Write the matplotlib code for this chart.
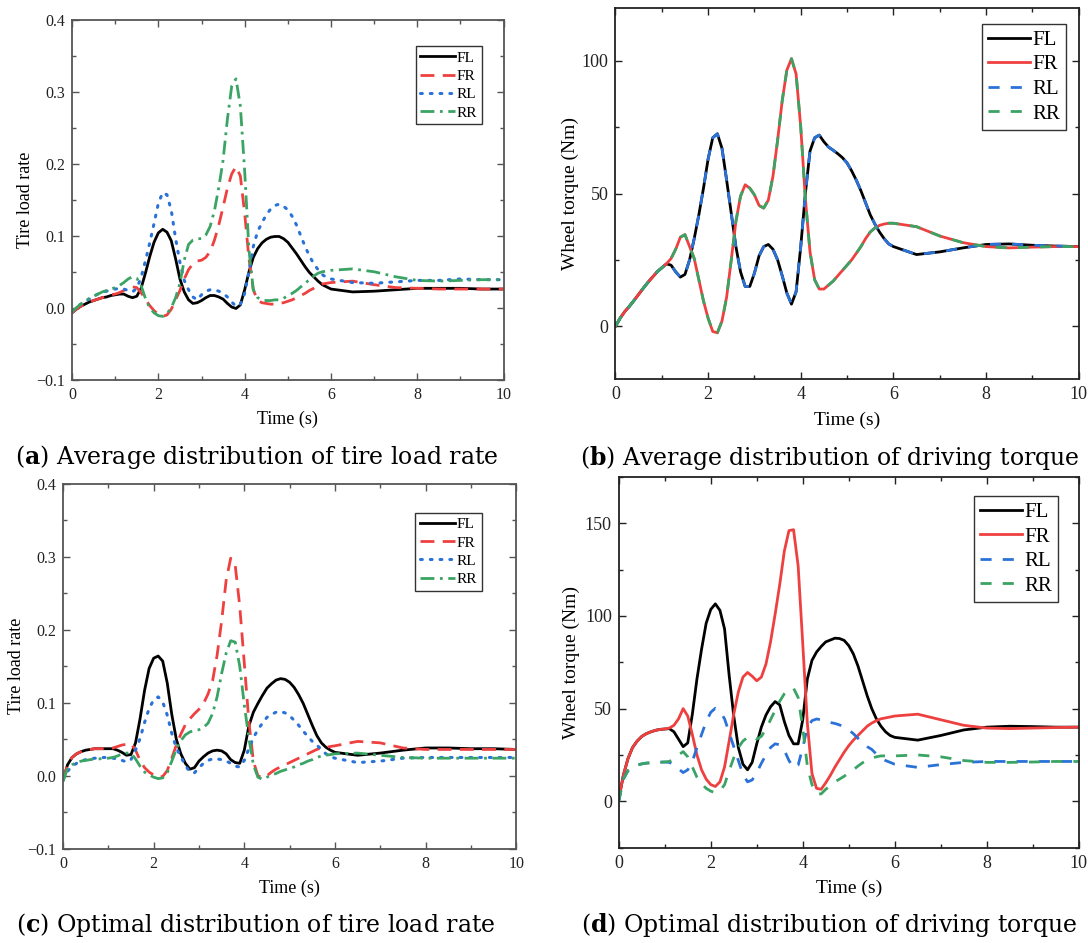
import matplotlib
matplotlib.use("Agg")
import matplotlib.pyplot as plt
from matplotlib.ticker import MultipleLocator

plt.rcParams["mathtext.fontset"] = "dejavuserif"

# ---------------- data ----------------
t = [0.0, 0.1, 0.2, 0.3, 0.4, 0.5, 0.6, 0.7, 0.8, 0.9,
     1.0, 1.1, 1.2, 1.3, 1.4, 1.5, 1.6, 1.7, 1.8, 1.9,
     2.0, 2.1, 2.2, 2.3, 2.4, 2.5, 2.6, 2.7, 2.8, 2.9,
     3.0, 3.1, 3.2, 3.3, 3.4, 3.5, 3.6, 3.7, 3.8, 3.9,
     4.0, 4.1, 4.2, 4.3, 4.4, 4.5, 4.6, 4.7, 4.8, 4.9,
     5.0, 5.1, 5.2, 5.3, 5.4, 5.5, 5.6, 5.7, 5.8, 5.9,
     6.0, 6.5, 7.0, 7.5, 8.0, 8.5, 9.0, 9.5, 10.0]

series_names = ["FL", "FR", "RL", "RR"]

# (a) average distribution, tire load rate
FL_a = [-0.007, -0.002, 0.002, 0.005, 0.008, 0.010, 0.012, 0.014, 0.015, 0.017,
        0.018, 0.019, 0.019, 0.016, 0.014, 0.016, 0.027, 0.048, 0.071, 0.091,
        0.104, 0.109, 0.105, 0.093, 0.068, 0.040, 0.022, 0.011, 0.006, 0.007,
        0.010, 0.014, 0.017, 0.017, 0.015, 0.012, 0.006, 0.001, -0.001, 0.004,
        0.025, 0.050, 0.070, 0.082, 0.090, 0.095, 0.098, 0.099, 0.099, 0.096,
        0.091, 0.083, 0.075, 0.066, 0.057, 0.049, 0.043, 0.037, 0.032, 0.029,
        0.026, 0.022, 0.023, 0.025, 0.027, 0.027, 0.027, 0.026, 0.026]
FR_a = [-0.007, -0.002, 0.002, 0.005, 0.008, 0.010, 0.012, 0.014, 0.016, 0.018,
        0.019, 0.021, 0.024, 0.027, 0.029, 0.028, 0.021, 0.012, 0.003, -0.004,
        -0.009, -0.012, -0.010, -0.002, 0.011, 0.024, 0.040, 0.053, 0.061, 0.065,
        0.066, 0.070, 0.078, 0.094, 0.115, 0.140, 0.166, 0.186, 0.196, 0.183,
        0.131, 0.068, 0.025, 0.010, 0.007, 0.006, 0.005, 0.005, 0.006, 0.007,
        0.009, 0.011, 0.014, 0.017, 0.020, 0.024, 0.027, 0.030, 0.033, 0.034,
        0.035, 0.037, 0.032, 0.028, 0.027, 0.026, 0.026, 0.026, 0.026]
RL_a = [-0.005, 0.000, 0.005, 0.009, 0.012, 0.016, 0.019, 0.021, 0.023, 0.025,
        0.026, 0.027, 0.026, 0.024, 0.022, 0.027, 0.042, 0.065, 0.090, 0.117,
        0.145, 0.160, 0.157, 0.135, 0.096, 0.063, 0.038, 0.025, 0.015, 0.011,
        0.018, 0.023, 0.025, 0.025, 0.023, 0.020, 0.015, 0.008, 0.002, 0.005,
        0.020, 0.050, 0.085, 0.106, 0.118, 0.129, 0.137, 0.142, 0.144, 0.141,
        0.136, 0.127, 0.115, 0.100, 0.085, 0.072, 0.061, 0.053, 0.046, 0.042,
        0.040, 0.035, 0.034, 0.036, 0.038, 0.038, 0.040, 0.039, 0.039]
RR_a = [-0.006, 0.000, 0.005, 0.009, 0.013, 0.016, 0.019, 0.022, 0.024, 0.026,
        0.028, 0.031, 0.035, 0.040, 0.043, 0.041, 0.031, 0.013, 0.000, -0.007,
        -0.011, -0.012, -0.008, 0.000, 0.014, 0.034, 0.066, 0.088, 0.094, 0.096,
        0.096, 0.101, 0.113, 0.135, 0.167, 0.205, 0.262, 0.308, 0.318, 0.280,
        0.190, 0.080, 0.025, 0.014, 0.011, 0.010, 0.010, 0.011, 0.011, 0.013,
        0.017, 0.020, 0.024, 0.029, 0.034, 0.039, 0.044, 0.048, 0.050, 0.051,
        0.052, 0.054, 0.050, 0.043, 0.038, 0.037, 0.038, 0.039, 0.039]

# (b) average distribution, wheel torque (RL coincides with FL, RR with FR)
FL_b = [0.0, 3.0, 5.5, 7.5, 9.7, 12.0, 14.3, 16.5, 18.5, 20.5,
        22.0, 23.5, 23.0, 20.5, 18.5, 19.5, 25.0, 33.0, 42.0, 52.0,
        63.0, 71.0, 72.5, 67.0, 55.0, 42.5, 30.0, 20.5, 15.0, 15.0,
        20.0, 26.5, 30.0, 30.8, 29.0, 25.0, 19.0, 12.5, 8.3, 13.0,
        30.0, 50.0, 66.0, 71.0, 72.0, 69.5, 67.5, 66.3, 65.0, 63.5,
        61.5, 58.5, 55.0, 51.0, 46.5, 42.0, 38.5, 35.5, 33.0, 31.0,
        30.0, 27.0, 28.0, 29.5, 30.8, 31.0, 30.5, 30.2, 30.0]
FR_b = [0.0, 3.0, 5.5, 7.5, 9.7, 12.0, 14.3, 16.5, 18.5, 20.5,
        22.0, 23.5, 25.5, 29.0, 33.5, 34.5, 30.0, 25.5, 17.5, 9.5,
        3.0, -2.0, -2.5, 2.0, 11.0, 25.0, 39.5, 49.0, 53.3, 52.0,
        49.5, 45.5, 44.5, 47.5, 56.5, 70.0, 85.0, 96.5, 100.8, 95.0,
        75.0, 48.0, 28.0, 17.5, 14.0, 14.0, 15.5, 17.0, 19.0, 21.0,
        23.0, 25.0, 27.5, 30.0, 33.0, 35.5, 37.0, 38.0, 38.5, 38.8,
        38.8, 37.5, 34.0, 31.5, 30.0, 29.5, 29.8, 30.0, 30.0]
RL_b = FL_b
RR_b = FR_b

# (c) optimal distribution, tire load rate
FL_c = [-0.006, 0.015, 0.025, 0.030, 0.033, 0.035, 0.036, 0.037, 0.037, 0.037,
        0.037, 0.037, 0.035, 0.032, 0.028, 0.029, 0.045, 0.078, 0.117, 0.147,
        0.161, 0.164, 0.157, 0.127, 0.084, 0.050, 0.030, 0.017, 0.009, 0.011,
        0.020, 0.026, 0.031, 0.034, 0.035, 0.034, 0.030, 0.022, 0.018, 0.017,
        0.035, 0.068, 0.087, 0.099, 0.110, 0.120, 0.126, 0.131, 0.133, 0.132,
        0.128, 0.121, 0.111, 0.099, 0.084, 0.069, 0.055, 0.045, 0.039, 0.035,
        0.032, 0.028, 0.031, 0.035, 0.038, 0.038, 0.037, 0.037, 0.036]
FR_c = [-0.006, 0.015, 0.025, 0.030, 0.033, 0.035, 0.036, 0.037, 0.037, 0.037,
        0.037, 0.038, 0.040, 0.042, 0.043, 0.044, 0.035, 0.021, 0.011, 0.005,
        0.001, -0.002, -0.001, 0.007, 0.024, 0.042, 0.057, 0.070, 0.078, 0.085,
        0.091, 0.099, 0.112, 0.130, 0.165, 0.212, 0.268, 0.298, 0.288, 0.232,
        0.154, 0.075, 0.020, 0.000, -0.003, 0.000, 0.005, 0.009, 0.012, 0.015,
        0.018, 0.021, 0.024, 0.027, 0.030, 0.033, 0.036, 0.038, 0.039, 0.040,
        0.041, 0.047, 0.045, 0.038, 0.036, 0.036, 0.036, 0.036, 0.036]
RL_c = [-0.005, 0.006, 0.013, 0.017, 0.020, 0.022, 0.023, 0.024, 0.024, 0.025,
        0.025, 0.024, 0.023, 0.021, 0.019, 0.022, 0.035, 0.051, 0.073, 0.092,
        0.104, 0.108, 0.101, 0.083, 0.058, 0.038, 0.026, 0.014, 0.005, 0.004,
        0.011, 0.017, 0.021, 0.023, 0.023, 0.022, 0.020, 0.017, 0.013, 0.012,
        0.021, 0.037, 0.052, 0.063, 0.072, 0.080, 0.084, 0.087, 0.088, 0.086,
        0.082, 0.076, 0.069, 0.061, 0.054, 0.047, 0.042, 0.036, 0.030, 0.026,
        0.024, 0.018, 0.020, 0.024, 0.025, 0.025, 0.025, 0.025, 0.025]
RR_c = [-0.008, 0.010, 0.015, 0.018, 0.020, 0.021, 0.022, 0.023, 0.023, 0.024,
        0.024, 0.025, 0.027, 0.030, 0.031, 0.031, 0.023, 0.013, 0.005, 0.001,
        -0.002, -0.004, -0.003, 0.004, 0.020, 0.036, 0.048, 0.056, 0.060, 0.062,
        0.063, 0.066, 0.072, 0.085, 0.108, 0.140, 0.168, 0.185, 0.183, 0.150,
        0.097, 0.052, 0.015, -0.002, -0.005, -0.002, 0.001, 0.003, 0.006, 0.008,
        0.010, 0.012, 0.015, 0.017, 0.020, 0.022, 0.025, 0.027, 0.028, 0.029,
        0.030, 0.031, 0.028, 0.025, 0.024, 0.024, 0.024, 0.024, 0.024]

# (d) optimal distribution, wheel torque
FL_d = [1.0, 14.0, 23.0, 29.0, 32.5, 35.0, 36.5, 37.5, 38.3, 38.8,
        39.0, 39.2, 37.5, 33.5, 29.5, 31.5, 47.0, 66.0, 82.0, 96.0,
        103.5, 106.5, 103.0, 93.0, 68.0, 46.0, 29.0, 20.0, 17.0, 21.0,
        31.0, 40.0, 46.5, 51.0, 53.8, 52.0, 43.0, 35.5, 31.0, 31.0,
        44.0, 66.0, 76.0, 80.5, 83.5, 86.0, 87.0, 88.0, 87.8, 86.8,
        84.0, 79.5, 73.0, 65.0, 57.0, 50.0, 44.5, 40.5, 37.5, 35.5,
        34.5, 33.0, 35.5, 38.5, 40.0, 40.5, 40.3, 40.0, 40.0]
FR_d = [1.0, 14.0, 23.0, 29.0, 32.5, 35.0, 36.5, 37.5, 38.3, 38.8,
        39.0, 39.5, 41.0, 44.5, 50.0, 46.0, 36.0, 25.0, 17.0, 12.0,
        9.0, 8.0, 10.5, 18.5, 32.5, 47.0, 59.0, 67.0, 69.5, 67.5,
        65.0, 67.0, 74.0, 86.0, 101.0, 117.0, 135.0, 146.0, 146.5, 127.0,
        85.0, 42.0, 15.0, 7.0, 6.5, 10.0, 14.0, 18.5, 22.5, 26.5,
        30.0, 33.0, 35.5, 38.0, 40.5, 42.2, 43.5, 44.5, 45.0, 45.5,
        46.0, 47.0, 44.0, 41.0, 39.5, 39.2, 39.5, 39.8, 40.0]
RL_d = [0.0, 12.0, 16.5, 18.5, 19.5, 20.2, 20.6, 20.8, 21.0, 21.1,
        21.2, 21.0, 19.8, 17.5, 15.5, 17.0, 21.5, 29.0, 36.0, 43.0,
        48.0, 50.2, 48.5, 44.5, 37.0, 29.5, 22.0, 14.5, 10.5, 11.5,
        15.5, 20.5, 25.0, 29.0, 31.0, 30.5, 27.5, 22.0, 18.0, 19.5,
        29.0, 40.0, 43.5, 44.4, 44.0, 43.2, 42.5, 42.0, 41.2, 40.0,
        38.5, 36.5, 34.0, 31.5, 29.5, 28.0, 25.5, 23.5, 22.0, 21.0,
        20.0, 18.3, 19.8, 21.0, 21.5, 21.5, 21.5, 21.5, 21.5]
RR_d = [0.0, 12.0, 16.5, 18.5, 19.5, 20.2, 20.6, 20.8, 21.0, 21.1,
        21.2, 21.5, 23.0, 25.0, 26.8, 24.0, 18.5, 13.0, 9.5, 7.0,
        5.5, 4.6, 5.5, 9.0, 16.5, 23.5, 29.0, 32.5, 34.5, 35.2,
        33.5, 35.0, 39.0, 44.0, 49.0, 54.0, 58.0, 60.5, 61.0, 56.0,
        39.5, 19.0, 9.0, 4.0, 4.0, 6.5, 8.5, 10.5, 12.0, 13.5,
        15.5, 17.0, 19.0, 20.8, 22.0, 23.3, 24.0, 24.5, 24.5, 24.5,
        24.5, 25.0, 24.0, 22.0, 21.0, 21.0, 21.2, 21.5, 21.5]

# ---------------- styling ----------------
C_BLACK = "#000000"
C_RED = "#ef4040"
C_BLUE = "#2a72d8"
C_GREEN = "#3aa464"

AX_FONT = "Liberation Serif"
CAP_FONT = "DejaVu Serif"

fig = plt.figure(figsize=(10.88, 9.43), dpi=100)

def style_axes(ax, ylim, ymaj, ymin, spine_col, fs_tick):
    ax.set_xlim(0, 10)
    ax.set_ylim(*ylim)
    ax.xaxis.set_major_locator(MultipleLocator(2))
    ax.xaxis.set_minor_locator(MultipleLocator(1))
    ax.yaxis.set_major_locator(MultipleLocator(ymaj))
    ax.yaxis.set_minor_locator(MultipleLocator(ymin))
    ax.tick_params(which="both", direction="in", top=True, right=True,
                   colors=spine_col, labelcolor="#222222", labelsize=fs_tick,
                   labelfontfamily=AX_FONT, width=1.0)
    ax.tick_params(which="major", length=5, pad=5)
    ax.tick_params(which="minor", length=3)
    for s in ax.spines.values():
        s.set_color(spine_col)
        s.set_linewidth(1.3)

def add_legend(ax, anchor, fs, hlen, spacing):
    leg = ax.legend(loc="upper right", bbox_to_anchor=anchor, fancybox=False,
                    frameon=True, edgecolor="#333333", framealpha=1,
                    handlelength=hlen, handletextpad=0.1, borderpad=0.3,
                    labelspacing=spacing, borderaxespad=0,
                    prop={"family": AX_FONT, "size": fs})
    leg.get_frame().set_linewidth(1.0)

def tire_panel(rect, FL, FR, RL, RR, anchor, ylab_x):
    ax = fig.add_axes(rect)
    ax.plot(t, FL, color=C_BLACK, lw=2.0, ls="-", label=series_names[0])
    ax.plot(t, FR, color=C_RED, lw=2.0, ls=(0, (5, 3)), label=series_names[1])
    ax.plot(t, RL, color=C_BLUE, lw=2.2, ls=(0, (0.6, 2.6)), dash_capstyle="round",
            label=series_names[2])
    ax.plot(t, RR, color=C_GREEN, lw=2.0, ls=(0, (5, 2, 1, 2)), label=series_names[3])
    style_axes(ax, (-0.1, 0.4), 0.1, 0.05, "#555555", 11.5)
    ax.set_xlabel("Time (s)", family=AX_FONT, fontsize=13, labelpad=6)
    ax.set_ylabel("Tire load rate", family=AX_FONT, fontsize=13)
    ax.yaxis.set_label_coords(ylab_x, 0.5)
    add_legend(ax, anchor, 11, 2.3, 0.3)
    return ax

def torque_panel(rect, FL, FR, RL, RR, ylim, anchor, ylab_x):
    ax = fig.add_axes(rect)
    ax.plot(t, FL, color=C_BLACK, lw=2.0, ls="-", label=series_names[0])
    ax.plot(t, FR, color=C_RED, lw=2.0, ls="-", label=series_names[1])
    ax.plot(t, RL, color=C_BLUE, lw=2.0, ls=(0, (4, 4)), label=series_names[2])
    ax.plot(t, RR, color=C_GREEN, lw=2.0, ls=(0, (4, 4)), label=series_names[3])
    style_axes(ax, ylim, 50, 25, "#222222", 13)
    ax.set_xlabel("Time (s)", family=AX_FONT, fontsize=14, labelpad=6)
    ax.set_ylabel("Wheel torque (Nm)", family=AX_FONT, fontsize=14)
    ax.yaxis.set_label_coords(ylab_x, 0.5)
    add_legend(ax, anchor, 15, 2.0, 0.24)
    return ax

tire_panel([0.0662, 0.5973, 0.3967, 0.3817], FL_a, FR_a, RL_a, RR_a, (0.950, 0.926), -0.087)
torque_panel([0.5657, 0.5978, 0.4257, 0.3940], FL_b, FR_b, RL_b, RR_b, (-20, 120),
             (0.973, 0.956), -0.079)
tire_panel([0.0579, 0.1000, 0.4166, 0.3870], FL_c, FR_c, RL_c, RR_c, (0.924, 0.920), -0.084)
torque_panel([0.5687, 0.1011, 0.4228, 0.3932], FL_d, FR_d, RL_d, RR_d, (-25, 175),
             (0.955, 0.948), -0.084)

captions = [
    (0.236, 0.515, "a", " Average distribution of tire load rate"),
    (0.763, 0.514, "b", " Average distribution of driving torque"),
    (0.235, 0.019, "c", " Optimal distribution of tire load rate"),
    (0.762, 0.019, "d", " Optimal distribution of driving torque"),
]
for x, y, letter, rest in captions:
    fig.text(x, y, r"($\mathbf{" + letter + r"}$)" + rest, ha="center", va="center",
             family=CAP_FONT, fontsize=17)

fig.savefig("out.png", dpi=100)
